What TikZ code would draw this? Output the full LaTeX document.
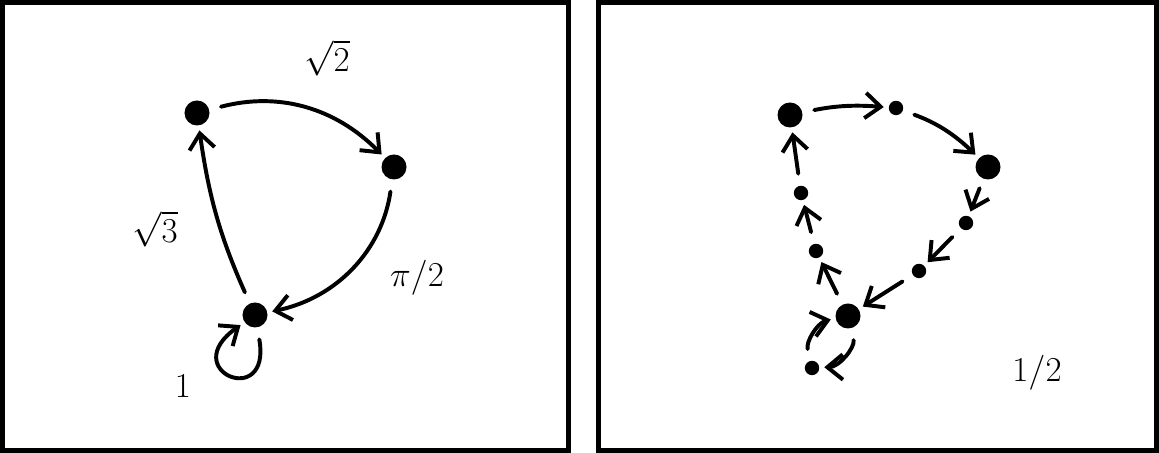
\documentclass[tikz,border=0pt]{standalone}
\usepackage{amsmath,amssymb}
\usepackage{tikz}
\usetikzlibrary{arrows.meta, positioning}

\begin{document}
\begin{tikzpicture}[
        x=0.025cm, y=0.025cm,
        >={Straight Barb[length=11pt,width=18pt]},
        % Big vertex of the graph
        bigdot/.style={
            circle, fill=black, inner sep=0pt, minimum size=0.625cm
        },
        % Small intermediate vertex
        smalldot/.style={
            circle, fill=black, inner sep=0pt, minimum size=0.36cm
        },
        % Arrow between vertices
        link/.style={
            ->, line width=2.8pt, line cap=round,
            shorten <=0.3cm, shorten >=0.12cm
        },
        weight/.style={font=\fontsize{25}{30}\selectfont},
        frame/.style={draw, line width=0.125cm}
    ]

    \useasboundingbox (0,0) rectangle (1159,453);

    % 1. Draw the two frames
    \draw[frame] (2.5,2.5) rectangle (568.5,450.5);
    \draw[frame] (598.5,2.5) rectangle (1156.5,450.5);

    % 2. Left graph: vertices
    \node[bigdot] (a) at (197,340) {};
    \node[bigdot] (b) at (394,286) {};
    \node[bigdot] (c) at (255,138) {};

    % 3. Left graph: weighted arrows
    \draw[link] (a) to[bend left=30] (b);
    \draw[link] (b) to[bend left=35] (c);
    \draw[link] (c) to[bend left=8] (a);
    \draw[link] (c) to[out=-80, in=-145, distance=2.1cm] (c);

    \node[weight] (wab) at (327,395) {$\sqrt{2}$};
    \node[weight] (wca) at (155,224) {$\sqrt{3}$};
    \node[weight] (wbc) at (417,175) {$\pi/2$};
    \node[weight] (wcc) at (183,67) {$1$};

    % 4. Right graph: big vertices and midpoints
    \node[bigdot] (ra) at (790,338) {};
    \node[bigdot] (rb) at (988,286) {};
    \node[bigdot] (rc) at (848,137) {};
    \node[smalldot] (m1) at (896,345) {};
    \node[smalldot] (m2) at (966,230) {};
    \node[smalldot] (m3) at (919,182) {};
    \node[smalldot] (m4) at (816,202) {};
    \node[smalldot] (m5) at (801,260) {};
    \node[smalldot] (m6) at (812,85) {};

    % 5. Right graph: subdivided arrows
    \draw[link] (ra) to[bend left=8] (m1);
    \draw[link] (m1) to[bend left=12] (rb);
    \draw[link, shorten <=0.25cm] (rb) -- (m2);
    \draw[link] (m2) -- (m3);
    \draw[link] (m3) -- (rc);
    \draw[link] (rc) -- (m4);
    \draw[link] (m4) -- (m5);
    \draw[link] (m5) -- (ra);
    \draw[link] (rc) to[bend left=50] (m6);
    \draw[link] (m6) to[bend left=45] (rc);

    \node[weight] (half) at (1037,80) {$1/2$};

    \end{tikzpicture}
\end{document}
